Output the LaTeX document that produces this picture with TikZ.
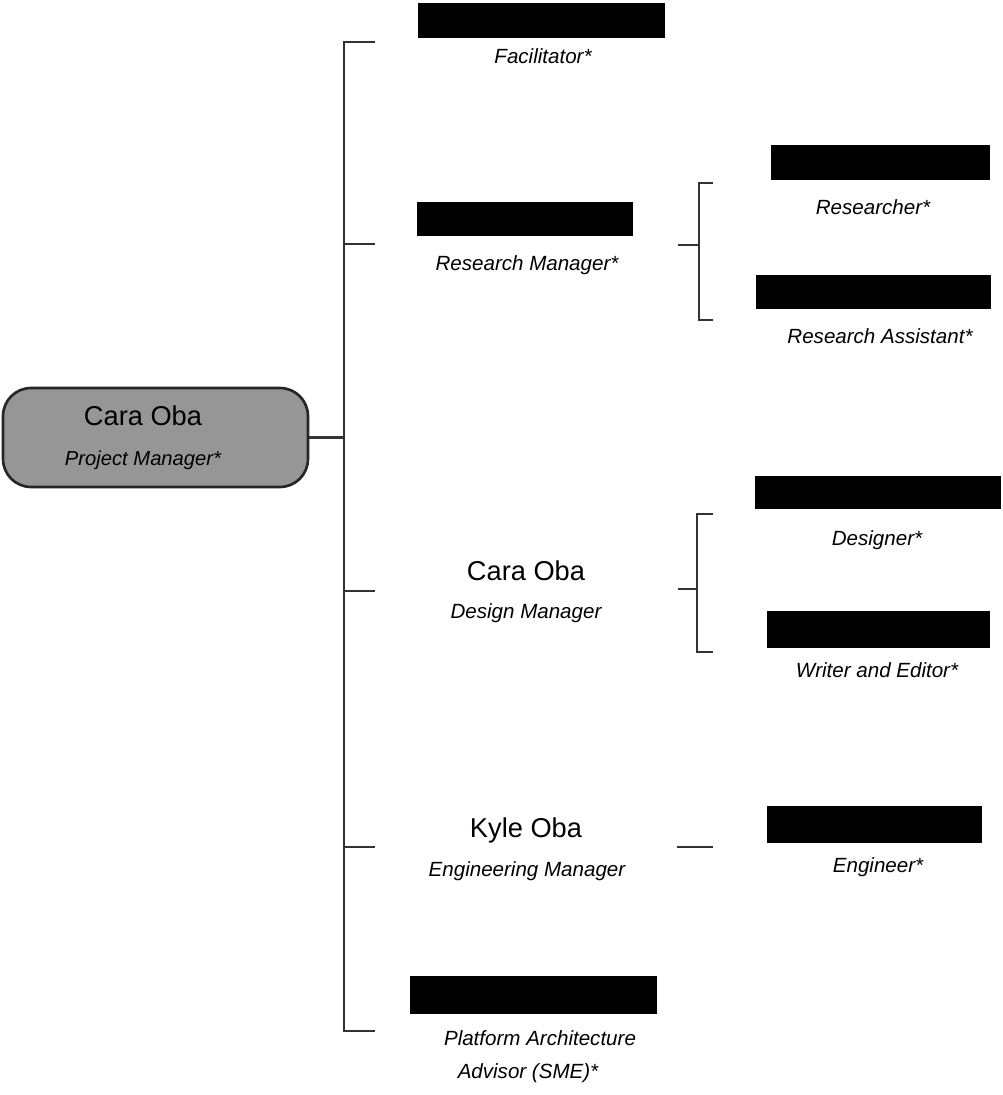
\documentclass[tikz,border=0pt]{standalone}
\usepackage{fontspec}
\setmainfont{Liberation Sans}
\definecolor{rootgray}{RGB}{150,150,150}
\tikzset{
  redact/.style={rectangle,fill=black,inner sep=0pt},
  role/.style={anchor=base,inner sep=0pt,font=\fontsize{11.7}{14}\selectfont\itshape},
  person/.style={anchor=base,inner sep=0pt,font=\fontsize{15.5}{18}\selectfont},
  link/.style={draw=black!80,line width=1.2pt},
}

\begin{document}
\begin{tikzpicture}[x=0.02cm,y=-0.02cm]
\useasboundingbox (0,0) rectangle (1003,1095);
\node[rectangle,draw=black!85,line width=1.5pt,fill=rootgray,rounded corners=0.56cm,minimum width=6.1cm,minimum height=1.98cm,align=center] (pm) at (155.5,437.5) {\rule{0pt}{8pt}{\fontsize{15.5}{18}\selectfont Cara Oba\hspace*{0.5cm}}\\[11pt]{\fontsize{11.5}{14}\selectfont\itshape Project Manager*\hspace*{0.5cm}}};

\node[redact,minimum width=4.94cm,minimum height=0.70cm] (fac) at (541.5,20.5) {};
\node[role] (facR) at (543,64) {Facilitator*};
\node[redact,minimum width=4.32cm,minimum height=0.68cm] (rm) at (525,219) {};
\node[role] (rmR) at (527,270) {Research Manager*};
\node[person] (dm) at (526,580) {Cara Oba};
\node[role] (dmR) at (526,618) {Design Manager};
\node[person] (em) at (526,837) {Kyle Oba};
\node[role] (emR) at (527,876) {Engineering Manager};
\node[redact,minimum width=4.94cm,minimum height=0.76cm] (pa) at (533.5,995) {};
\node[role] (paR) at (540,1045) {Platform Architecture};
\node[role] (paR2) at (528,1078) {Advisor (SME)*};

\node[redact,minimum width=4.38cm,minimum height=0.70cm] (res) at (880.5,162.5) {};
\node[role] (resR) at (873,214) {Researcher*};
\node[redact,minimum width=4.70cm,minimum height=0.68cm] (ra) at (873.5,292) {};
\node[role] (raR) at (880,343) {Research Assistant*};
\node[redact,minimum width=4.92cm,minimum height=0.66cm] (des) at (878,492.5) {};
\node[role] (desR) at (877,545) {Designer*};
\node[redact,minimum width=4.46cm,minimum height=0.74cm] (wr) at (878.5,629.5) {};
\node[role] (wrR) at (877,677) {Writer and Editor*};
\node[redact,minimum width=4.30cm,minimum height=0.74cm] (eng) at (874.5,824.5) {};
\node[role] (engR) at (878,872) {Engineer*};

\coordinate (trunkTop) at (344,42);
\coordinate (trunkBot) at (344,1031);
\coordinate (facIn) at (375,42);
\coordinate (rmIn) at (375,244);
\coordinate (dmIn) at (375,591);
\coordinate (emIn) at (375,847);
\coordinate (paIn) at (375,1031);
\draw[link] (pm.east) -- (pm.east -| trunkTop);
\draw[link] (facIn) -- (trunkTop) -- (trunkBot) -- (paIn);
\foreach \n in {rmIn,dmIn,emIn}
  \draw[link] (\n -| trunkTop) -- (\n);

\coordinate (rmOut) at (678,245);
\coordinate (rmFork) at (699,245);
\coordinate (resIn) at (713,183);
\coordinate (raIn) at (713,320);
\draw[link] (rmOut) -- (rmFork);
\draw[link] (resIn) -- (resIn -| rmFork) -- (raIn -| rmFork) -- (raIn);

\coordinate (dmOut) at (678,589);
\coordinate (dmFork) at (697,589);
\coordinate (desIn) at (713,514);
\coordinate (wrIn) at (713,652);
\draw[link] (dmOut) -- (dmFork);
\draw[link] (desIn) -- (desIn -| dmFork) -- (wrIn -| dmFork) -- (wrIn);

\coordinate (emOut) at (677,847);
\coordinate (engIn) at (713,847);
\draw[link] (emOut) -- (engIn);
\end{tikzpicture}
\end{document}
